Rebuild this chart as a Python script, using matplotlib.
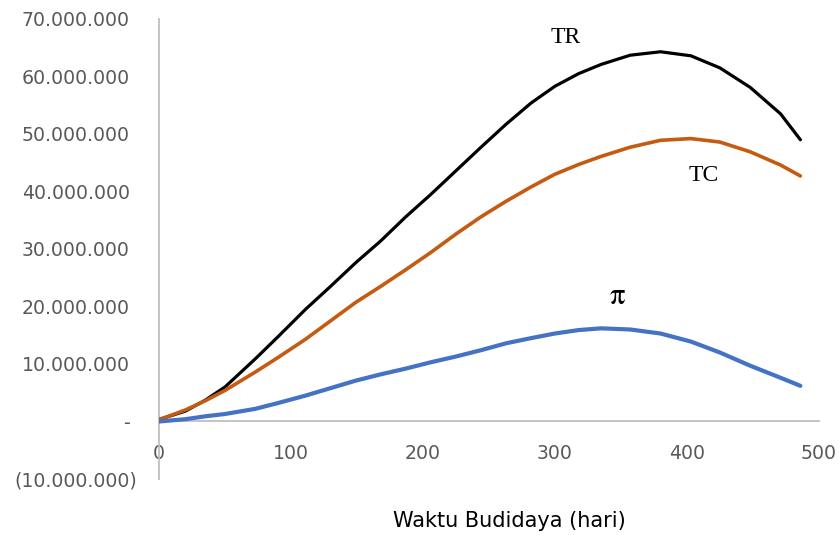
import matplotlib
matplotlib.use("Agg")
import matplotlib.pyplot as plt
import matplotlib.transforms as mtransforms
from matplotlib.ticker import FuncFormatter

# waktu budidaya (hari) and values
hari = [0, 20, 35, 50, 73, 90, 111, 130, 149, 168, 187, 206, 225, 244, 263,
        282, 300, 318, 335, 357, 380, 403, 425, 448, 471, 486]

# total revenue (juta rupiah)
tr = [0.35, 1.8, 3.7, 6.0, 10.9, 14.7, 19.5, 23.5, 27.6, 31.4, 35.6, 39.5, 43.6,
      47.7, 51.7, 55.4, 58.3, 60.5, 62.1, 63.7, 64.3, 63.6, 61.5, 58.1, 53.5,
      49.0]

# total cost (juta rupiah)
tc = [0.3, 2.0, 3.6, 5.4, 8.6, 11.1, 14.3, 17.5, 20.7, 23.5, 26.4, 29.4, 32.6,
      35.6, 38.3, 40.8, 43.0, 44.7, 46.1, 47.7, 48.9, 49.2, 48.6, 46.9, 44.6,
      42.7]

# profit (juta rupiah)
profit = [0.0, 0.4, 0.9, 1.3, 2.2, 3.2, 4.5, 5.8, 7.1, 8.2, 9.2, 10.3, 11.3,
          12.4, 13.6, 14.5, 15.3, 15.9, 16.2, 16.0, 15.3, 13.9, 12.0, 9.7, 7.6,
          6.2]

y_ticks = [-10, 0, 10, 20, 30, 40, 50, 60, 70]  # juta
x_ticks = [0, 100, 200, 300, 400, 500]

juta = 1_000_000


def rupiah(v, pos):
    # accounting style: "-" for zero, brackets for negatives
    n = int(round(v))
    if n == 0:
        return "-"
    s = f"{abs(n):,}".replace(",", ".")
    return f"({s})" if n < 0 else s


fig = plt.figure(figsize=(8.39, 5.35), dpi=100)
ax = fig.add_axes([0.1895, 0.1047, 0.7865, 0.8598])

ax.plot(hari, [v * juta for v in tr], color="#000000", lw=2.3,
        solid_capstyle="round", solid_joinstyle="round", zorder=3)
ax.plot(hari, [v * juta for v in tc], color="#C55A11", lw=2.6,
        solid_capstyle="round", solid_joinstyle="round", zorder=3)
ax.plot(hari, [v * juta for v in profit], color="#4472C4", lw=3.0,
        solid_capstyle="round", solid_joinstyle="round", zorder=3)

ax.set_xlim(0, 500)
ax.set_ylim(-10 * juta, 70 * juta)
ax.set_xticks(x_ticks)
ax.set_yticks([t * juta for t in y_ticks])
ax.yaxis.set_major_formatter(FuncFormatter(rupiah))

# axes look like excel: gray lines, x axis through zero
for s in ["top", "right"]:
    ax.spines[s].set_visible(False)
ax.spines["bottom"].set_position(("data", 0))
ax.spines["bottom"].set_color("#BFBFBF")
ax.spines["left"].set_color("#BFBFBF")
ax.spines["bottom"].set_linewidth(1.3)
ax.spines["left"].set_linewidth(1.3)
ax.tick_params(axis="both", length=0, labelsize=13.6, colors="#595959")
ax.tick_params(axis="y", pad=21)
ax.tick_params(axis="x", pad=16)

# curve labels
serif = "Liberation Serif"
ax.text(308, 66.7 * juta, "TR", family=serif, fontsize=17, ha="center", va="center")
ax.text(413, 42.8 * juta, "TC", family=serif, fontsize=17, ha="center", va="center")
ax.text(347, 21.6 * juta, "π", family=["STIXGeneral", serif], fontsize=22,
        ha="center", va="center")

fig.text(509 / 839, 1 - 521 / 535, "Waktu Budidaya (hari)", ha="center",
         va="center", fontsize=15, color="#000000")

# excel lets the closing bracket of negatives hang past the other labels
fig.canvas.draw()
for lab in ax.get_yticklabels():
    if lab.get_text().startswith("("):
        lab.set_transform(lab.get_transform() +
                          mtransforms.ScaledTranslation(7 / 100, 0, fig.dpi_scale_trans))

plt.savefig("out.png", dpi=100)
plt.close()
